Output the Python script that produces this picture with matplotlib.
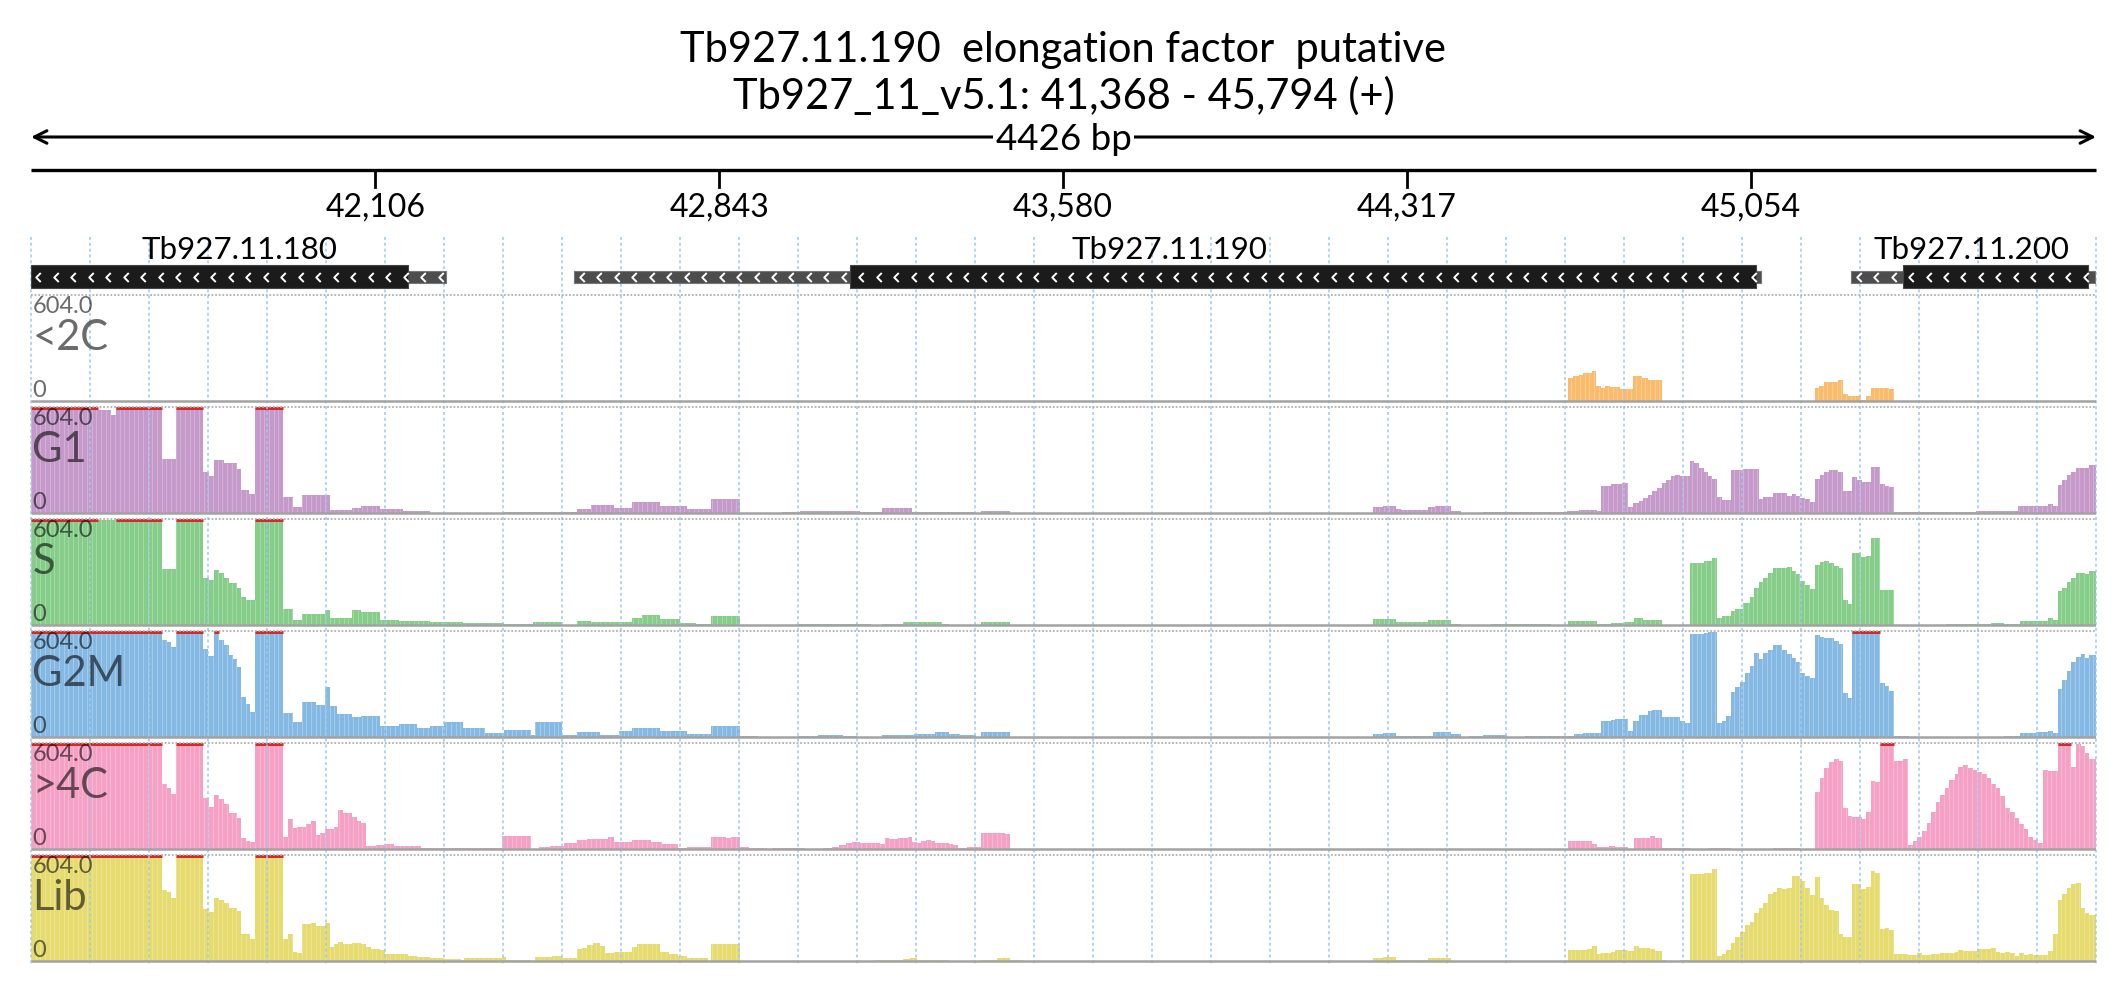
import numpy as np
import matplotlib
matplotlib.use("Agg")
import matplotlib.pyplot as plt
from matplotlib.path import Path

plt.rcParams['font.family'] = ['Lato', 'DejaVu Sans']

# ---------------- data ----------------
REGION_START = 41368
REGION_END = 45794
YMAX = 604.0
TITLE1 = "Tb927.11.190  elongation factor  putative"
TITLE2 = "Tb927_11_v5.1: 41,368 - 45,794 (+)"
SPAN_LABEL = "4426 bp"
TICKS = [42106, 42843, 43580, 44317, 45054]
TICK_LABELS = ["42,106", "42,843", "43,580", "44,317", "45,054"]

GENE_NAMES = ["Tb927.11.180", "Tb927.11.190", "Tb927.11.200"]
GENE_LABEL_POS = [41814, 43807, 45528]
GENE_UTR_START = [41368, 42532, 45269]
GENE_UTR_END = [42257, 45076, 45791]
GENE_CDS_START = [41368, 43123, 45380]
GENE_CDS_END = [42176, 45065, 45776]

TRACK_NAMES = ["<2C", "G1", "S", "G2M", ">4C", "Lib"]

C2_START = [41368, 44662, 44672, 44685, 44695, 44713, 44723, 44732, 44742, 44752, 44774, 44801,
            44821, 44833, 44863, 45191, 45201, 45210, 45240, 45252, 45262, 45290, 45302, 45311,
            45351, 45362]
C2_VAL = [0, 133, 142, 150, 158, 173, 85, 76, 85, 80, 70, 144,
          129, 120, 0, 72, 87, 106, 120, 40, 28, 6, 28, 74,
          70, 0]

G1_START = [41368, 41511, 41540, 41550, 41649, 41678, 41737, 41750, 41760, 41782, 41809, 41818,
            41836, 41849, 41909, 41929, 41948, 42008, 42057, 42076, 42115, 42165, 42224, 42382,
            42539, 42568, 42617, 42657, 42716, 42775, 42826, 42888, 42977, 43016, 43094, 43144,
            43193, 43256, 43389, 43404, 43466, 44244, 44265, 44294, 44304, 44363, 44378, 44412,
            44432, 44481, 44526, 44585, 44660, 44685, 44724, 44732, 44755, 44779, 44791, 44801,
            44814, 44824, 44833, 44843, 44853, 44863, 44873, 44884, 44892, 44902, 44923, 44933,
            44943, 44953, 44962, 44972, 44982, 44992, 45012, 45037, 45072, 45081, 45101, 45131,
            45142, 45150, 45160, 45171, 45181, 45192, 45202, 45212, 45222, 45240, 45252, 45272,
            45282, 45292, 45302, 45311, 45331, 45341, 45351, 45362, 45478, 45537, 45627, 45692,
            45702, 45712, 45721, 45731, 45741, 45751, 45771, 45780]
G1_VAL = [650, 585, 557, 650, 306, 650, 236, 208, 302, 283, 249, 132,
          109, 650, 94, 34, 104, 19, 28, 38, 23, 13, 2, 6,
          23, 47, 28, 60, 41, 23, 79, 2, 8, 13, 9, 6,
          26, 6, 0, 13, 0, 32, 41, 23, 19, 34, 41, 13,
          2, 4, 8, 4, 13, 19, 11, 155, 164, 170, 34, 57,
          66, 85, 104, 123, 142, 170, 189, 208, 217, 212, 296, 283,
          259, 236, 212, 193, 94, 72, 246, 251, 79, 89, 113, 98,
          109, 98, 85, 79, 60, 193, 217, 236, 245, 236, 123, 204,
          189, 174, 179, 260, 166, 155, 151, 4, 6, 13, 38, 53,
          41, 160, 189, 217, 236, 255, 259, 274]

S_START = [41368, 41511, 41550, 41649, 41678, 41737, 41750, 41760, 41770, 41782, 41792, 41809,
           41818, 41828, 41849, 41909, 41929, 41948, 41998, 42008, 42057, 42076, 42115, 42156,
           42224, 42294, 42382, 42445, 42506, 42538, 42568, 42657, 42677, 42716, 42760, 42794,
           42826, 42888, 43011, 43094, 43168, 43193, 43237, 43321, 43336, 43404, 43466, 44244,
           44294, 44363, 44412, 44432, 44497, 44541, 44585, 44626, 44662, 44724, 44755, 44784,
           44804, 44824, 44863, 44923, 44953, 44972, 44982, 44992, 45012, 45021, 45037, 45052,
           45062, 45072, 45081, 45091, 45101, 45121, 45131, 45142, 45150, 45160, 45171, 45181,
           45192, 45202, 45212, 45222, 45233, 45243, 45252, 45262, 45272, 45290, 45302, 45311,
           45331, 45362, 45473, 45513, 45568, 45597, 45632, 45692, 45702, 45712, 45721, 45731,
           45741, 45751, 45771, 45780]
S_VAL = [650, 600, 650, 319, 650, 266, 257, 313, 294, 266, 238, 210,
         162, 143, 650, 91, 26, 62, 83, 40, 83, 76, 26, 21,
         15, 9, 6, 17, 2, 25, 15, 40, 57, 34, 9, 4,
         53, 0, 6, 8, 0, 8, 15, 4, 0, 19, 0, 34,
         16, 30, 6, 0, 4, 8, 4, 0, 25, 4, 11, 19,
         40, 30, 0, 351, 366, 381, 42, 53, 79, 92, 125, 162,
         213, 245, 270, 294, 327, 323, 328, 310, 291, 253, 228, 206,
         342, 361, 366, 351, 338, 327, 143, 121, 411, 389, 393, 498,
         200, 0, 4, 4, 11, 6, 25, 38, 30, 196, 213, 247,
         270, 294, 292, 306]

G2M_START = [41368, 41649, 41659, 41668, 41678, 41737, 41747, 41760, 41770, 41782, 41792, 41801,
             41809, 41818, 41828, 41838, 41849, 41909, 41929, 41948, 41978, 41998, 42008, 42023,
             42057, 42076, 42115, 42156, 42195, 42224, 42253, 42294, 42342, 42382, 42440, 42448,
             42506, 42538, 42588, 42628, 42657, 42716, 42775, 42826, 42888, 42927, 43011, 43055,
             43109, 43138, 43193, 43261, 43305, 43336, 43360, 43394, 43404, 43466, 44244, 44265,
             44294, 44342, 44373, 44412, 44432, 44451, 44481, 44531, 44571, 44675, 44695, 44732,
             44755, 44763, 44791, 44801, 44814, 44833, 44843, 44863, 44902, 44913, 44923, 44953,
             44962, 44982, 44992, 45002, 45012, 45021, 45032, 45042, 45052, 45062, 45072, 45081,
             45091, 45101, 45121, 45131, 45142, 45150, 45160, 45171, 45181, 45192, 45202, 45212,
             45233, 45243, 45252, 45262, 45272, 45331, 45341, 45351, 45362, 45394, 45597, 45632,
             45666, 45692, 45702, 45712, 45721, 45731, 45741, 45751, 45761, 45771, 45780]
G2M_VAL = [650, 551, 542, 513, 650, 504, 461, 650, 551, 523, 466, 447,
           400, 230, 189, 145, 650, 136, 83, 202, 183, 287, 174, 132,
           113, 121, 60, 74, 51, 64, 83, 51, 23, 42, 13, 87,
           13, 26, 13, 32, 51, 36, 17, 60, 8, 0, 6, 13,
           6, 0, 11, 19, 28, 19, 11, 0, 28, 0, 17, 23,
           8, 4, 28, 17, 0, 6, 13, 0, 6, 17, 23, 89,
           98, 104, 36, 89, 125, 149, 155, 113, 94, 79, 585, 593,
           597, 79, 89, 117, 257, 287, 315, 362, 406, 476, 444, 476,
           495, 523, 495, 472, 453, 428, 362, 347, 334, 579, 570, 566,
           547, 532, 249, 221, 650, 306, 291, 262, 6, 0, 6, 23,
           28, 36, 23, 274, 325, 378, 425, 457, 472, 451, 466]

C4_START = [41368, 41649, 41659, 41668, 41678, 41737, 41750, 41760, 41770, 41782, 41792, 41809,
            41818, 41828, 41838, 41849, 41909, 41919, 41929, 41938, 41958, 41969, 41978, 41988,
            41998, 42018, 42027, 42037, 42057, 42067, 42076, 42086, 42107, 42126, 42146, 42204,
            42377, 42439, 42456, 42480, 42510, 42539, 42559, 42604, 42617, 42633, 42657, 42697,
            42721, 42755, 42775, 42826, 42858, 42868, 42888, 42907, 42946, 42956, 43026, 43065,
            43084, 43099, 43114, 43128, 43144, 43188, 43198, 43207, 43227, 43247, 43256, 43266,
            43276, 43286, 43297, 43305, 43336, 43345, 43355, 43375, 43404, 43456, 43466, 44662,
            44714, 44724, 44750, 44763, 44791, 44804, 44838, 44848, 44863, 44923, 44962, 45012,
            45101, 45160, 45192, 45202, 45212, 45222, 45233, 45243, 45252, 45262, 45272, 45292,
            45302, 45311, 45321, 45331, 45362, 45380, 45391, 45401, 45411, 45421, 45431, 45440,
            45450, 45460, 45470, 45480, 45491, 45499, 45509, 45520, 45530, 45540, 45550, 45560,
            45569, 45579, 45589, 45599, 45609, 45620, 45628, 45639, 45649, 45659, 45669, 45681,
            45692, 45702, 45712, 45741, 45751, 45761, 45771, 45780]
C4_VAL = [650, 372, 349, 315, 650, 289, 240, 308, 283, 255, 204, 176,
          62, 47, 38, 650, 66, 170, 119, 126, 142, 157, 81, 94,
          113, 123, 221, 206, 183, 157, 149, 19, 25, 28, 15, 4,
          72, 0, 9, 17, 32, 51, 55, 66, 38, 42, 51, 38,
          28, 4, 9, 66, 62, 68, 9, 6, 0, 8, 0, 8,
          13, 25, 32, 40, 34, 28, 62, 57, 62, 66, 38, 32,
          43, 51, 43, 34, 28, 23, 8, 11, 91, 85, 0, 47,
          28, 9, 17, 11, 0, 62, 72, 62, 6, 0, 8, 0,
          8, 0, 327, 406, 462, 495, 515, 504, 236, 189, 185, 170,
          211, 387, 381, 650, 500, 512, 23, 43, 66, 104, 151, 211,
          270, 306, 345, 391, 425, 468, 481, 459, 449, 438, 425, 402,
          372, 345, 302, 232, 208, 176, 145, 113, 70, 53, 34, 453,
          447, 444, 650, 468, 598, 585, 547, 510]

LIB_START = [41368, 41649, 41659, 41668, 41678, 41737, 41750, 41760, 41770, 41782, 41792, 41809,
             41818, 41838, 41849, 41909, 41919, 41929, 41938, 41948, 41969, 41978, 41998, 42008,
             42018, 42027, 42037, 42057, 42076, 42086, 42096, 42115, 42126, 42175, 42195, 42224,
             42253, 42289, 42297, 42377, 42386, 42439, 42448, 42485, 42506, 42538, 42549, 42559,
             42573, 42588, 42598, 42617, 42638, 42657, 42667, 42716, 42736, 42755, 42775, 42818,
             42826, 42858, 42888, 43178, 43237, 43251, 43266, 43336, 43404, 43438, 43466, 43495,
             44244, 44265, 44294, 44363, 44412, 44662, 44675, 44704, 44714, 44724, 44734, 44755,
             44763, 44784, 44791, 44804, 44814, 44824, 44838, 44848, 44863, 44873, 44902, 44923,
             44953, 44972, 44982, 44992, 45002, 45012, 45021, 45032, 45042, 45052, 45062, 45072,
             45081, 45091, 45101, 45111, 45121, 45131, 45142, 45150, 45160, 45171, 45181, 45192,
             45202, 45212, 45222, 45233, 45243, 45252, 45272, 45290, 45302, 45311, 45321, 45331,
             45341, 45351, 45362, 45391, 45411, 45421, 45440, 45460, 45491, 45499, 45509, 45520,
             45530, 45540, 45550, 45569, 45579, 45589, 45599, 45609, 45620, 45628, 45639, 45649,
             45659, 45669, 45679, 45692, 45702, 45712, 45721, 45731, 45741, 45751, 45761, 45771,
             45780]
LIB_VAL = [650, 403, 393, 357, 650, 294, 281, 361, 348, 332, 304, 285,
           152, 123, 650, 123, 152, 53, 44, 213, 216, 199, 218, 82,
           95, 106, 95, 103, 95, 82, 66, 61, 38, 30, 23, 15,
           13, 4, 15, 23, 8, 0, 23, 28, 15, 66, 76, 91,
           104, 85, 47, 53, 51, 82, 99, 53, 42, 28, 15, 0,
           99, 95, 0, 4, 9, 15, 8, 0, 8, 15, 4, 0,
           15, 21, 4, 15, 0, 61, 65, 68, 84, 38, 46, 49,
           61, 65, 57, 84, 74, 76, 66, 57, 4, 0, 4, 494,
           503, 526, 28, 38, 61, 104, 137, 163, 205, 224, 275, 304,
           332, 380, 395, 416, 408, 414, 482, 484, 456, 418, 374, 480,
           357, 319, 292, 283, 152, 137, 437, 408, 420, 513, 503, 182,
           186, 177, 42, 34, 44, 32, 38, 46, 53, 63, 59, 55,
           59, 66, 70, 76, 53, 46, 49, 44, 28, 44, 34, 38,
           34, 32, 36, 57, 156, 348, 380, 414, 437, 442, 300, 272,
           260]

TRACK_STARTS = [C2_START, G1_START, S_START, G2M_START, C4_START, LIB_START]
TRACK_VALUES = [C2_VAL, G1_VAL, S_VAL, G2M_VAL, C4_VAL, LIB_VAL]

# ---------------- styles / layout ----------------
COLORS = ['#fbbb6c', '#c599c9', '#86cd89', '#85b9e3', '#f5a0c5', '#e6db6f']
RED = '#d42a2a'
W, H = 2126, 1000
X0, X1 = 31, 2096
TRACK_TOP0 = 295
TRACK_PITCH = 112
TRACK_H = 106
BIN = 10

fig = plt.figure(figsize=(W / 100, H / 100), dpi=100)
fig.patch.set_facecolor('white')

# track axes
for i, (starts, vals) in enumerate(zip(TRACK_STARTS, TRACK_VALUES)):
    top = TRACK_TOP0 + i * TRACK_PITCH
    base = top + TRACK_H
    tax = fig.add_axes([X0 / W, 1 - base / H, (X1 - X0) / W, TRACK_H / H])
    tax.set_xlim(REGION_START, REGION_END)
    tax.set_ylim(0, YMAX)
    tax.axis('off')
    s = np.array(starts, dtype=float)
    v = np.array(vals, dtype=float)
    e = np.append(s[1:], REGION_END)
    h = np.minimum(v, YMAX)
    tax.bar(s, h, width=e - s, align='edge', color=COLORS[i], linewidth=0)
    edges = np.arange(REGION_START, REGION_END, BIN)
    idx = np.searchsorted(s, edges, side='right') - 1
    hh = h[idx]
    m = hh > 0
    tax.vlines(edges[m], 0, hh[m], colors='white', alpha=0.35, linewidth=0.5)
    clip = v > YMAX
    if clip.any():
        tax.hlines(np.full(clip.sum(), YMAX - 4), s[clip], e[clip], colors=RED,
                   linewidth=2.2, clip_on=False)

# overlay axes (pixel rows on y)
ax = fig.add_axes([X0 / W, 0, (X1 - X0) / W, 1], zorder=5)
ax.set_xlim(REGION_START, REGION_END)
ax.set_ylim(H, 0)
ax.axis('off')
ax.patch.set_alpha(0)

mid = (REGION_START + REGION_END) / 2
ax.text(mid, 62, TITLE1, ha='center', va='baseline', fontsize=30, color='black')
ax.text(mid, 109, TITLE2, ha='center', va='baseline', fontsize=30, color='black')

# span arrow
ax.annotate('', xy=(REGION_START, 137), xytext=(REGION_END, 137),
            arrowprops=dict(arrowstyle='<->,head_length=0.9,head_width=0.45', lw=2.2,
                            color='black', shrinkA=0, shrinkB=0),
            annotation_clip=False)
ax.text(mid, 150, SPAN_LABEL, ha='center', va='baseline', fontsize=26.5, color='black',
        bbox=dict(facecolor='white', edgecolor='none', pad=1.5))

# scale axis
ax.plot([REGION_START, REGION_END], [170, 170], color='black', lw=2.4,
        solid_capstyle='butt', clip_on=False)
for t, lab in zip(TICKS, TICK_LABELS):
    ax.plot([t, t], [170, 187], color='black', lw=2.0, clip_on=False)
    ax.text(t, 217, lab, ha='center', va='baseline', fontsize=23, color='black')

# grid
grid_x = np.linspace(REGION_START, REGION_END, 36)
ax.vlines(grid_x, 237, 966, colors='#9fc9ef', linestyles=(0, (1.5, 1.5)), lw=1.4,
          alpha=0.8, clip_on=False, zorder=1)

# separators and baselines
for i in range(len(TRACK_NAMES)):
    top = TRACK_TOP0 + i * TRACK_PITCH
    base = top + TRACK_H
    ax.hlines(top, REGION_START, REGION_END, colors='#b0b0b0', linestyles=(0, (1, 1)), lw=1.3,
              zorder=2)
    ax.hlines(base, REGION_START, REGION_END, colors='#a3a3a3', lw=1.8, zorder=2)
    ax.text(REGION_START + 3, top + 1, '604.0', ha='left', va='top', fontsize=17,
            color='black', alpha=0.58, zorder=4)
    ax.text(REGION_START + 3, top + 55, TRACK_NAMES[i], ha='left', va='baseline', fontsize=30,
            color='black', alpha=0.58, zorder=4)
    ax.text(REGION_START + 3, base - 4, '0', ha='left', va='baseline', fontsize=17,
            color='black', alpha=0.58, zorder=4)

# genes
chev = Path([(0.5, 1.0), (-0.5, 0.0), (0.5, -1.0)],
            [Path.MOVETO, Path.LINETO, Path.LINETO])
for name, lp, us, ue, cs, ce in zip(GENE_NAMES, GENE_LABEL_POS, GENE_UTR_START,
                                     GENE_UTR_END, GENE_CDS_START, GENE_CDS_END):
    ax.fill_between([us, ue], 271, 283, color='#4d4d4d', edgecolor='#777777', lw=0.8, zorder=3)
    ax.fill_between([cs, ce], 265, 288, color='#1b1b1b', edgecolor='#444444', lw=0.8, zorder=3)
    cx = np.arange(us + 16, ue - 4, 37.5)
    ax.plot(cx, np.full(len(cx), 277), linestyle='none', marker=chev, markersize=6.5,
            markerfacecolor='none', markeredgecolor='white', markeredgewidth=1.4, zorder=3.5)
    ax.text(lp, 259, name, ha='center', va='baseline', fontsize=22.5, color='black', zorder=4)

fig.savefig('out.png', dpi=100, facecolor='white')
